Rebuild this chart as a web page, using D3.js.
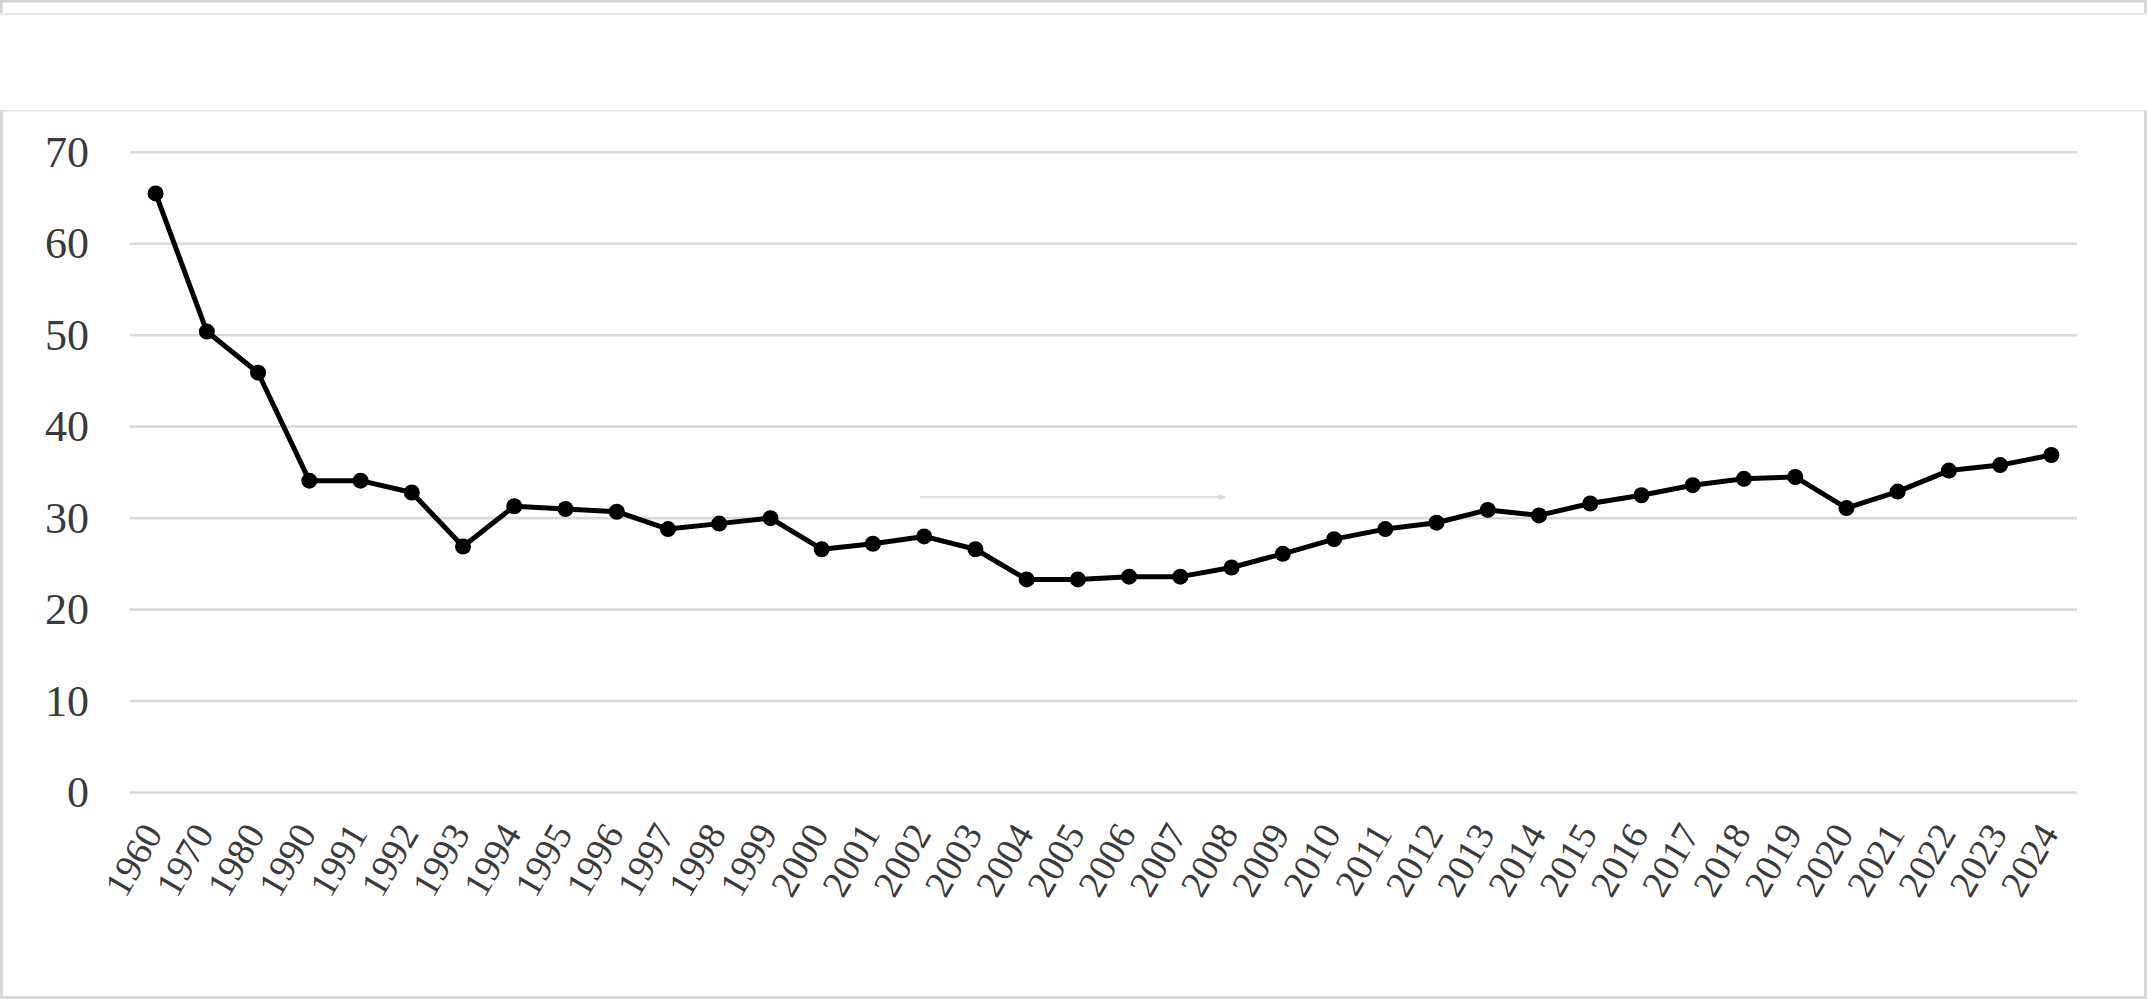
<!DOCTYPE html>
<html>
<head>
<meta charset="utf-8">
<script src="https://cdn.jsdelivr.net/npm/d3@7"></script>
<style>
  html, body { margin: 0; padding: 0; background: #ffffff; }
  svg { display: block; }
</style>
</head>
<body>
<svg id="chart" width="2147" height="999"></svg>
<script>
// ---- data ----
const years = ["1960","1970","1980","1990","1991","1992","1993","1994","1995","1996","1997","1998","1999",
  "2000","2001","2002","2003","2004","2005","2006","2007","2008","2009","2010","2011","2012","2013",
  "2014","2015","2016","2017","2018","2019","2020","2021","2022","2023","2024"];
const values = [65.5, 50.4, 45.9, 34.1, 34.1, 32.8, 26.9, 31.3, 31.0, 30.7, 28.8, 29.4, 30.0,
  26.6, 27.2, 28.0, 26.6, 23.3, 23.3, 23.6, 23.6, 24.6, 26.1, 27.7, 28.8, 29.5, 30.9,
  30.3, 31.6, 32.5, 33.6, 34.3, 34.5, 31.1, 32.9, 35.2, 35.8, 36.9];
const yTicks = [0, 10, 20, 30, 40, 50, 60, 70];
// stray connector arrow in the chart (from category to category, at value)
const arrowFrom = "2002", arrowTo = "2008", arrowValue = 32.3;

// ---- layout ----
const W = 2147, H = 999;
const plot = { left: 130, right: 2077, top: 152.3, bottom: 792.5 };
const svg = d3.select("#chart");

svg.append("rect").attr("x", 0).attr("y", 0).attr("width", W).attr("height", H).attr("fill", "#ffffff");

// frame pieces
const frame = svg.append("g").attr("fill", "none");
frame.append("path").attr("d", `M1.3,13 V1.3 H2145.5 V13`).attr("stroke", "#d4d4d4").attr("stroke-width", 2.6);
frame.append("line").attr("x1", 0).attr("x2", W).attr("y1", 14).attr("y2", 14).attr("stroke", "#e2e2e2").attr("stroke-width", 1.6);
frame.append("line").attr("x1", 0).attr("x2", W).attr("y1", 110.8).attr("y2", 110.8).attr("stroke", "#e2e2e2").attr("stroke-width", 1.6);
frame.append("path").attr("d", `M1.5,111 V997.5 H2145.5 V111`).attr("stroke", "#d9d9d9").attr("stroke-width", 3);

const x = d3.scaleBand().domain(years).range([plot.left, plot.right]).padding(0);
const y = d3.scaleLinear().domain([0, 70]).range([plot.bottom, plot.top]);
const cx = d => x(d) + x.bandwidth() / 2;

// gridlines
svg.append("g")
  .selectAll("line").data(yTicks).join("line")
  .attr("x1", plot.left).attr("x2", plot.right)
  .attr("y1", d => y(d)).attr("y2", d => y(d))
  .attr("stroke", "#d9d9d9").attr("stroke-width", 2.6);

// y axis labels
const yAxis = d3.axisLeft(y).tickValues(yTicks).tickSize(0).tickPadding(41).tickFormat(d3.format("d"));
const gy = svg.append("g").attr("transform", `translate(${plot.left},0)`).call(yAxis);
gy.select(".domain").remove();
gy.selectAll("text")
  .attr("font-family", "'Liberation Serif', 'Times New Roman', serif")
  .attr("font-size", 44).attr("fill", "#3a3a3a");

// x axis labels
const xAxis = d3.axisBottom(x).tickSize(0).tickPadding(0);
const gx = svg.append("g").attr("transform", `translate(0,${plot.bottom})`).call(xAxis);
gx.select(".domain").remove();
gx.selectAll("text")
  .attr("font-family", "'Liberation Serif', 'Times New Roman', serif")
  .attr("font-size", 38).attr("fill", "#3a3a3a")
  .attr("text-anchor", "end")
  .attr("dy", 0).attr("y", 0)
  .attr("transform", "translate(8,41) rotate(-60)");

// stray arrow
const defs = svg.append("defs");
defs.append("marker").attr("id", "arr").attr("viewBox", "0 0 10 10").attr("refX", 9).attr("refY", 5)
  .attr("markerWidth", 5).attr("markerHeight", 5).attr("orient", "auto")
  .append("path").attr("d", "M0,1 L10,5 L0,9 Z").attr("fill", "#d9d9d9");
svg.append("line")
  .attr("x1", cx(arrowFrom) - 4).attr("x2", cx(arrowTo) - 6)
  .attr("y1", y(arrowValue)).attr("y2", y(arrowValue))
  .attr("stroke", "#d9d9d9").attr("stroke-width", 1.5).attr("marker-end", "url(#arr)");

// line
const line = d3.line().x((d, i) => cx(years[i])).y(d => y(d));
svg.append("path").datum(values)
  .attr("d", line).attr("fill", "none").attr("stroke", "#000000")
  .attr("stroke-width", 5).attr("stroke-linejoin", "round");

// markers
svg.append("g").selectAll("circle").data(values).join("circle")
  .attr("cx", (d, i) => cx(years[i])).attr("cy", d => y(d))
  .attr("r", 8).attr("fill", "#000000");
</script>
</body>
</html>
